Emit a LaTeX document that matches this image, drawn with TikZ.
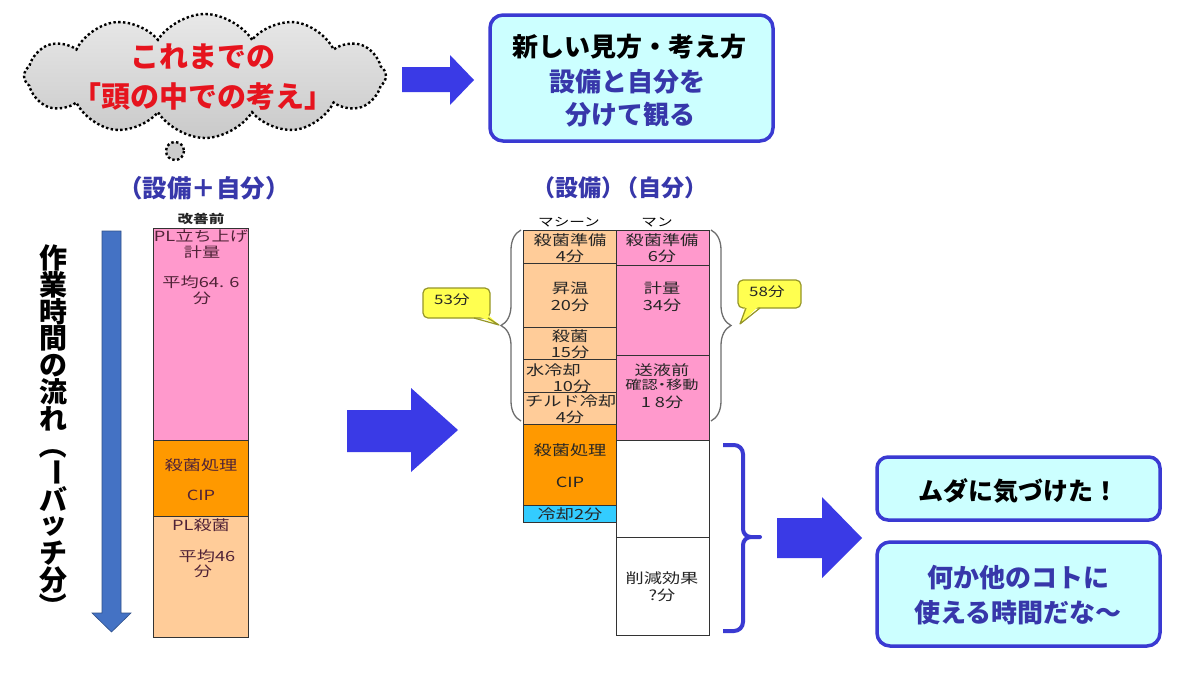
\documentclass[tikz,border=0pt]{standalone}
\usepackage{fontspec}
\newfontfamily\jp{Noto Sans CJK JP}
\newfontfamily\jpw[FakeStretch=1.3]{Noto Sans CJK JP}
\newfontfamily\jpwp[FakeStretch=1.3,RawFeature=+palt]{Noto Sans CJK JP}
\usetikzlibrary{shapes.symbols,decorations.pathreplacing}
\newcommand\myfs[1]{\fontsize{#1pt}{#1pt}\selectfont}
\newcommand\vrot[1]{\rotatebox[origin=c]{-90}{#1}}
\definecolor{bluearrow}{RGB}{58,58,230}
\definecolor{boxblue}{RGB}{58,58,210}
\definecolor{boxfill}{RGB}{204,255,255}
\definecolor{txtblue}{RGB}{55,55,170}
\definecolor{pinkc}{RGB}{255,153,204}
\definecolor{peach}{RGB}{255,204,153}
\definecolor{orangec}{RGB}{255,153,0}
\definecolor{cyanc}{RGB}{51,204,255}
\definecolor{redtxt}{RGB}{230,20,30}
\definecolor{steel}{RGB}{68,114,196}
\definecolor{yel}{RGB}{255,255,80}
\definecolor{yelborder}{RGB}{150,150,40}
\definecolor{lefttxt}{RGB}{80,35,55}
\definecolor{bracegray}{RGB}{110,110,110}
\begin{document}
\begin{tikzpicture}[x=1pt,y=-1pt,
  seg/.style={draw=black!80, line width=0.8pt, anchor=north west, inner sep=0pt, outer sep=0pt, minimum width=93pt},
  lt/.style={font={\jpw\myfs{14}}, text=lefttxt, inner sep=0pt},
  mt/.style={font={\jpw\myfs{14}}, text=black!85, inner sep=0pt},
  rbox/.style={draw=boxblue, line width=3.5pt, fill=boxfill, rounded corners=13pt, inner sep=0pt},
  bigtxt/.style={font={\jp\bfseries\myfs{26}}, inner sep=0pt},
  head/.style={font={\jp\bfseries\myfs{24}}, text=txtblue, inner sep=0pt},
  vchar/.style={font={\jp\bfseries\myfs{28}}, inner sep=0pt},
  blockarrow/.style={fill=bluearrow},
  graybrace/.style={draw=bracegray, line width=1.3pt, decorate, decoration={brace, amplitude=20pt}},
  bluebrace/.style={draw=boxblue, line width=4pt, line join=round},
  callout/.style={draw=yelborder, fill=yel, line width=1.2pt, rounded corners=5pt, inner sep=0pt},
  dots/.style={draw=black, line width=2.4pt, dash pattern=on 2.4pt off 2.4pt}
]
\fill[white] (0,0) rectangle (1200,675);
\useasboundingbox (0,0) rectangle (1200,675);

% ---------- cloud ----------
\draw[dots, fill=gray!40] (175,151) circle (9);
\node[cloud, cloud puffs=12, cloud puff arc=115, aspect=3, minimum width=362pt, minimum height=124pt,
      dots, top color=gray!18, bottom color=gray!42, inner sep=0pt] (cloud) at (205,76) {};
\node[font={\jp\bfseries\myfs{29}}, text=redtxt, inner sep=0pt] (c1) at (203,57) {これまでの};
\node[font={\jp\bfseries\myfs{29}}, text=redtxt, inner sep=0pt] (c2) at (203,97) {「頭の中での考え」};

% top arrow
\fill[blockarrow] (402,67) -- (450,67) -- (450,55) -- (474,80) -- (450,105) -- (450,92) -- (402,92) -- cycle;

% top box
\node[rbox, minimum width=283pt, minimum height=126pt] (topbox) at (631.5,78) {};
\node[bigtxt] (t1) at (629,47) {新しい見方・考え方};
\node[bigtxt, text=txtblue] (t2) at (627,82) {設備と自分を};
\node[bigtxt, text=txtblue] (t3) at (630,115) {分けて観る};

% headers
\node[head, font={\jp\bfseries\myfs{24.5}}] (h1) at (204,188) {（設備＋自分）};
\node[head, font={\jp\bfseries\myfs{23}}] (h2) at (620,188) {（設備）\kern-9pt（自分）};

% ---------- vertical text & down arrow ----------
\foreach \ch [count=\i] in {作,業,時,間,の,流,れ,\vrot{（},\vrot{ー},バ,ッ,チ,分,\vrot{）}}
  \node[vchar] (v\i) at (53,{258+26.8*(\i-1)}) {\ch};
\filldraw[fill=steel, draw=steel!70!black, line width=0.6pt]
  (102,231) -- (121,231) -- (121,613) -- (131,613) -- (111.5,632) -- (92,613) -- (102,613) -- cycle;

% ---------- left bar ----------
\node[font={\jpw\bfseries\myfs{12}}, text=black!85, inner sep=0pt] (kz) at (201,219) {改善前};
\node[seg, fill=pinkc, minimum width=95pt, minimum height=212pt] (L1) at (153,228) {};
\node[seg, fill=orangec, minimum width=95pt, minimum height=76pt] (L2) at (153,440) {};
\node[seg, fill=peach, minimum width=95pt, minimum height=121pt] (L3) at (153,516) {};
\node[lt] (l1) at (201,236) {PL立ち上げ};
\node[lt] (l2) at (202,252) {計量};
\node[lt] (l3) at (201,282) {平均64. 6};
\node[lt] (l4) at (202,298) {分};
\node[lt] (l5) at (201,465) {殺菌処理};
\node[lt] (l6) at (201,495) {CIP};
\node[lt] (l7) at (201,525) {PL殺菌};
\node[lt] (l8) at (207,556) {平均46};
\node[lt] (l9) at (203,571) {分};

% middle arrow
\fill[blockarrow] (347,410) -- (411,410) -- (411,388) -- (458,430) -- (411,472) -- (411,452) -- (347,452) -- cycle;

% ---------- middle chart ----------
\node[font={\jpw\myfs{12}}, text=black, inner sep=0pt] (hm) at (569,222) {マシーン};
\node[font={\jpw\myfs{12}}, text=black, inner sep=0pt] (hn) at (657,222) {マン};
% machine column
\node[seg, fill=peach, minimum height=33pt] (M1) at (523,230) {};
\node[seg, fill=peach, minimum height=64pt] (M2) at (523,263) {};
\node[seg, fill=peach, minimum height=32pt] (M3) at (523,327) {};
\node[seg, fill=peach, minimum height=33pt] (M4) at (523,359) {};
\node[seg, fill=peach, minimum height=32pt] (M5) at (523,392) {};
\node[seg, fill=orangec, minimum height=81pt] (M6) at (523,424) {};
\node[seg, fill=cyanc, minimum height=17pt] (M7) at (523,505) {};
% man column
\node[seg, fill=pinkc, minimum height=35pt] (N1) at (616,230) {};
\node[seg, fill=pinkc, minimum height=90pt] (N2) at (616,265) {};
\node[seg, fill=pinkc, minimum height=85pt] (N3) at (616,355) {};
\node[seg, fill=white, minimum height=97pt] (N4) at (616,440) {};
\node[seg, fill=white, minimum height=98pt] (N5) at (616,537) {};
% machine texts
\node[mt] (m1a) at (570,240) {殺菌準備};
\node[mt] (m1b) at (570,256) {4分};
\node[mt] (m2a) at (570,288) {昇温};
\node[mt] (m2b) at (570,305) {20分};
\node[mt] (m3a) at (570,336) {殺菌};
\node[mt] (m3b) at (570,352) {15分};
\node[mt, anchor=west] (m4a) at (526,370) {水冷却};
\node[mt] (m4b) at (572,386) {10分};
\node[mt, anchor=west] (m5a) at (525,401) {チルド冷却};
\node[mt] (m5b) at (570,417) {4分};
\node[mt] (m6a) at (570,450) {殺菌処理};
\node[mt] (m6b) at (570,482) {CIP};
\node[mt] (m7) at (570,514) {冷却2分};
% man texts
\node[mt] (n1a) at (662,240) {殺菌準備};
\node[mt] (n1b) at (662,256) {6分};
\node[mt] (n2a) at (662,288) {計量};
\node[mt] (n2b) at (662,305) {34分};
\node[mt] (n3a) at (662,370) {送液前};
\node[mt, font={\jpwp\myfs{12.5}}] (n3b) at (662,385) {確認・移動};
\node[mt] (n3c) at (662,402) {1 8分};
\node[mt] (n5a) at (662,578) {削減効果};
\node[mt] (n5b) at (662,595) {?分};

% gray braces
\draw[graybrace] (521,421) -- (521,230);
\draw[graybrace] (711,230) -- (711,421);

% callouts
\node[callout, minimum width=67pt, minimum height=30pt] (k53) at (456.5,303) {};
\fill[yel] (473,314) -- (499,325) -- (487,314) -- cycle;
\draw[yelborder, line width=1.2pt, line join=round] (474,318) -- (499,325) -- (488,318);
\node[mt, font={\jpw\myfs{13}}] (k53t) at (452,300) {53分};
\node[callout, minimum width=63pt, minimum height=28pt] (k58) at (769.5,294) {};
\fill[yel] (746,304) -- (740,324) -- (761,304) -- cycle;
\draw[yelborder, line width=1.2pt, line join=round] (746,308) -- (740,324) -- (760,308);
\node[mt, font={\jpw\myfs{13}}] (k58t) at (767,292) {58分};

% blue brace
\draw[bluebrace] (723,445) -- (734,445) to[out=0,in=90] (743,454) -- (743,529)
  to[out=-90,in=180] (751,537) -- (760,537) -- (751,537)
  to[out=180,in=90] (743,545) -- (743,622) to[out=-90,in=0] (734,631) -- (723,631);

% right arrow
\fill[blockarrow] (777,518) -- (822,518) -- (822,497) -- (862,538) -- (822,578) -- (822,558) -- (777,558) -- cycle;

% bottom right boxes
\node[rbox, minimum width=283pt, minimum height=63pt, rounded corners=11pt] (b1) at (1018.5,488.5) {};
\node[bigtxt, font={\jp\bfseries\myfs{25}}] (b1t) at (1018,491) {ムダに気づけた！};
\node[rbox, minimum width=283pt, minimum height=104pt] (b2) at (1018.5,594) {};
\node[bigtxt, text=txtblue] (b2a) at (1018,578) {何か他のコトに};
\node[bigtxt, text=txtblue] (b2b) at (1018,613) {使える時間だな～};
\end{tikzpicture}
\end{document}
